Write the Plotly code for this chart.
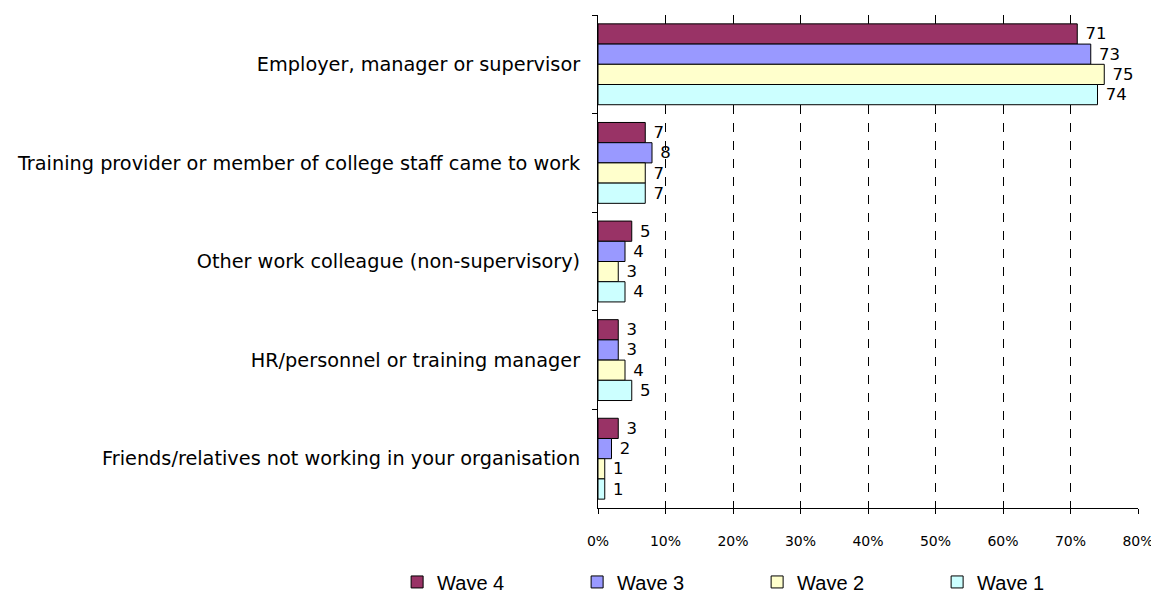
import plotly.graph_objects as go

categories = [
    "Employer, manager or supervisor",
    "Training provider or member of college staff came to work",
    "Other work colleague (non-supervisory)",
    "HR/personnel or training manager",
    "Friends/relatives not working in your organisation",
]
series_names = ["Wave 4", "Wave 3", "Wave 2", "Wave 1"]
wave4 = [71, 7, 5, 3, 3]
wave3 = [73, 8, 4, 3, 2]
wave2 = [75, 7, 3, 4, 1]
wave1 = [74, 7, 4, 5, 1]
colors = ["#993366", "#9999FF", "#FFFFCC", "#CCFFFF"]

font_main = "Tahoma, DejaVu Sans, sans-serif"
font_legend = "Liberation Sans Narrow, Arial Narrow, Liberation Sans, sans-serif"

fig = go.Figure()
for name, vals, col in zip(series_names, [wave4, wave3, wave2, wave1], colors):
    fig.add_trace(go.Bar(
        y=categories, x=vals, name=name, orientation="h",
        marker=dict(color=col, line=dict(color="#000000", width=1)),
        text=[" " + str(v) for v in vals], textposition="outside",
        textfont=dict(family=font_main, size=16.5, color="#000"),
        cliponaxis=False,
    ))

fig.update_layout(
    template="none",
    width=1159, height=592,
    margin=dict(l=590, r=29, t=7, b=92, autoexpand=False),
    paper_bgcolor="white", plot_bgcolor="white",
    barmode="group", bargap=0.18, bargroupgap=0,
    font=dict(family=font_main, size=16, color="#000"),
    showlegend=True,
    legend=dict(orientation="h", x=-0.372, xanchor="left", y=-0.150, yanchor="middle",
                entrywidth=135, entrywidthmode="pixels",
                bgcolor="rgba(0,0,0,0)", borderwidth=0,
                font=dict(family=font_legend, size=20, color="#000"),
                traceorder="normal"),
)

fig.update_xaxes(
    range=[0, 80], dtick=10, ticksuffix="%", automargin=False,
    showgrid=True, gridcolor="#000000", griddash="dash", gridwidth=1,
    showline=True, linecolor="#000", linewidth=1,
    ticks="outside", ticklen=5, tickcolor="#000",
    ticklabelstandoff=15,
    tickfont=dict(family=font_main, size=14),
    zeroline=False, fixedrange=True,
)
fig.update_yaxes(
    autorange="reversed", tickson="boundaries", automargin=False,
    showline=True, linecolor="#000", linewidth=1,
    ticks="outside", ticklen=5, tickcolor="#000",
    ticklabelstandoff=13,
    tickfont=dict(family=font_main, size=19.3),
    showgrid=False, zeroline=False,
)

fig.write_html("out.html")
